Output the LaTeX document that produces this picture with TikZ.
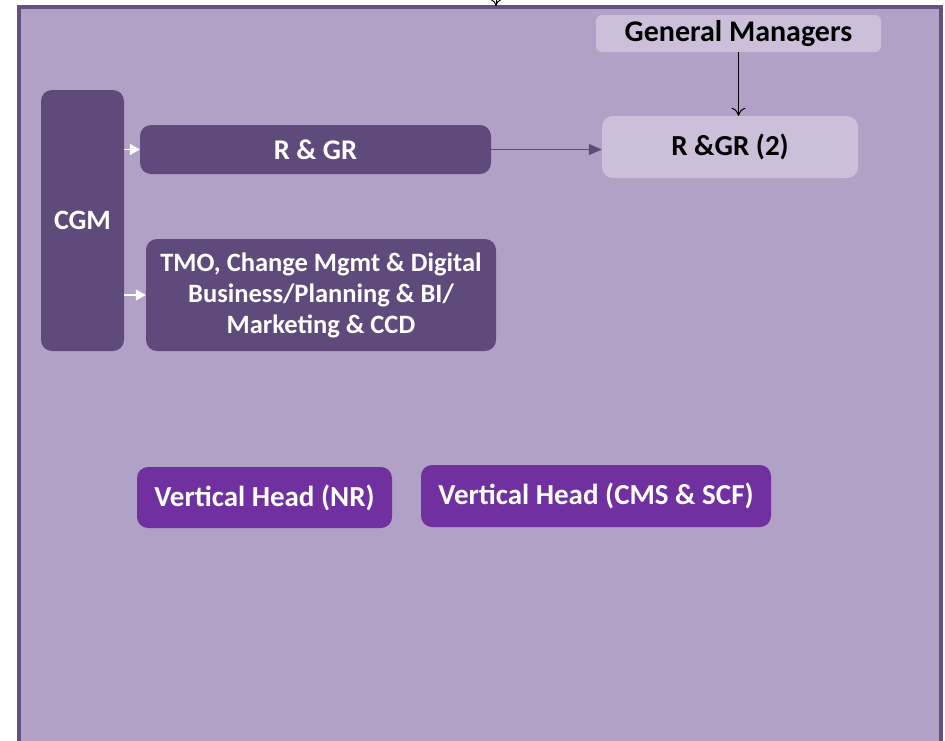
\documentclass[tikz,border=0pt]{standalone}
\usepackage{fontspec}
\setmainfont{Carlito}
\usetikzlibrary{arrows.meta}
\definecolor{framebg}{RGB}{177,161,199}
\definecolor{frameline}{RGB}{98,80,128}
\definecolor{darkbox}{RGB}{95,75,123}
\definecolor{lightbox}{RGB}{203,191,218}
\definecolor{headbox}{RGB}{112,48,160}
\tikzset{
  unit/.style={rounded corners=11pt, inner sep=0pt, align=center,
    font=\fontsize{29}{31}\selectfont\bfseries},
  darkunit/.style={unit, fill=darkbox, text=white},
  lightunit/.style={unit, fill=lightbox, text=black},
  headunit/.style={unit, fill=headbox, text=white},
  feed/.style={-{Triangle[length=10pt,width=11pt]}, white, line width=1.8pt},
}
\begin{document}
\begin{tikzpicture}[x=1pt,y=-1pt]
  \useasboundingbox (0,0) rectangle (945,740);
  \draw[fill=framebg, draw=frameline, line width=3.5pt] (19,7) rectangle (941,760);
  \coordinate (above) at (496,-14);
  \coordinate (frametop) at (496,6);
  \draw[-{To[length=7pt,width=11pt]}, line width=1pt] (above) -- (frametop);
  \path (738.5,33.5) node[lightunit, minimum width=285pt, minimum height=37pt, rounded corners=6pt, font=\fontsize{30}{31}\selectfont\bfseries] (gm) {General Managers};
  \path (730,147) node[lightunit, minimum width=256pt, minimum height=62pt] (rgr2) {R \&GR (2)};
  \path (82.5,220.5) node[darkunit, minimum width=83pt, minimum height=261pt, font=\fontsize{28}{31}\selectfont\bfseries] (cgm) {CGM};
  \path (315.5,149.5) node[darkunit, minimum width=351pt, minimum height=49pt, font=\fontsize{28.5}{31}\selectfont\bfseries] (rgr) {R \& GR};
  \path (321,295) node[darkunit, minimum width=350pt, minimum height=112pt, font=\fontsize{26.5}{31}\selectfont\bfseries] (tmo) {TMO, Change Mgmt \& Digital\\Business/Planning \& BI/\\Marketing \& CCD};
  \path (264.5,497.5) node[headunit, minimum width=255pt, minimum height=61pt] (vhnr) {Vertical Head (NR)};
  \path (596,496) node[headunit, minimum width=350pt, minimum height=62pt] (vhcms) {Vertical Head (CMS \& SCF)};
  \draw[-{To[length=8pt,width=14pt]}, line width=1pt] (gm.south) -- (gm.south |- rgr2.north);
  \draw[-{Triangle[length=13pt,width=11pt]}, darkbox, line width=1.8pt] (rgr.east) -- (rgr.east -| rgr2.west);
  \draw[feed] (cgm.east |- rgr.west) -- (rgr.west);
  \draw[feed] (cgm.east |- tmo.west) -- (tmo.west);
\end{tikzpicture}
\end{document}
